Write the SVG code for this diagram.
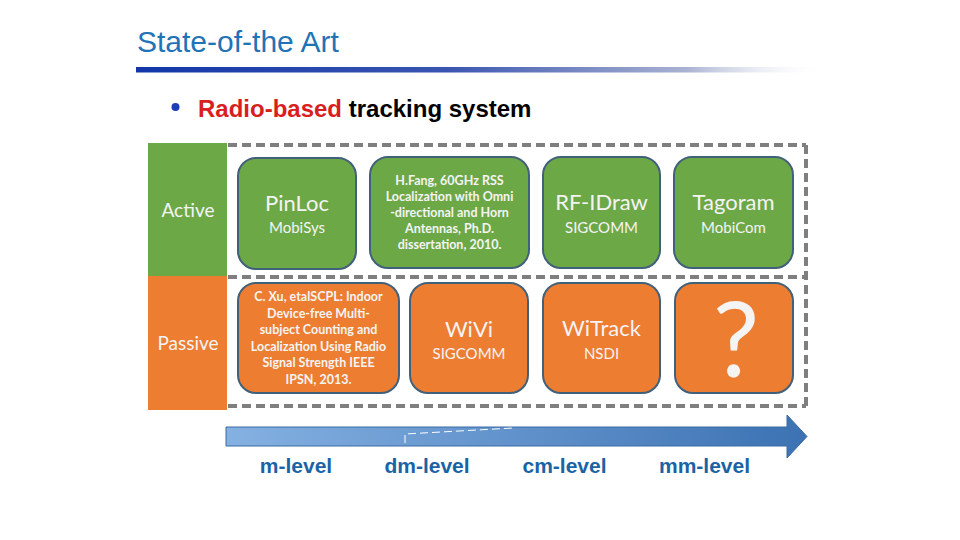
<svg xmlns="http://www.w3.org/2000/svg" width="960" height="540" viewBox="0 0 960 540">
  <defs>
    <linearGradient id="bar" x1="0" y1="0" x2="1" y2="0">
      <stop offset="0" stop-color="#1236A8"/>
      <stop offset="0.45" stop-color="#3a55b0"/>
      <stop offset="0.8" stop-color="#aab3d2"/>
      <stop offset="1" stop-color="#ffffff" stop-opacity="0"/>
    </linearGradient>
    <linearGradient id="arrowH" x1="0" y1="0" x2="1" y2="0">
      <stop offset="0" stop-color="#85B1E2"/>
      <stop offset="1" stop-color="#3C72B3"/>
    </linearGradient>
    <style>
      .title { font-family: "Liberation Sans", Arial, sans-serif; font-size: 30px; fill: #1F73B7; }
      .bullet { font-family: "Liberation Sans", Arial, sans-serif; font-size: 24px; font-weight: bold; }
      .dash { stroke: #7F7F7F; stroke-width: 4; stroke-dasharray: 9 5; fill: none; }
      .g { fill: #6DA847; }
      .o { fill: #ED7D31; }
      .box { stroke: #41607A; stroke-width: 2; }
      .t { font-family: Lato, "Open Sans", "Liberation Sans", sans-serif; fill: #F4F4F4; text-anchor: middle; }
      .big { font-size: 22px; }
      .small { font-size: 15px; }
      .side { font-size: 19px; }
      .para { font-size: 12.5px; font-weight: bold; }
      .lvl { font-family: "Liberation Sans", Arial, sans-serif; font-size: 21px; font-weight: bold; fill: #1B63A5; text-anchor: middle; }
    </style>
  </defs>

  <rect width="960" height="540" fill="#ffffff"/>

  <g id="header">
    <text class="title" x="137" y="52">State-of-the Art</text>
    <rect x="136" y="67" width="690" height="5.5" fill="url(#bar)"/>
    <circle cx="175.5" cy="107" r="4" fill="#1C3FB5"/>
    <text class="bullet" x="198" y="117"><tspan fill="#D81E1E">Radio-based</tspan><tspan fill="#000000"> tracking system</tspan></text>
  </g>

  <g id="grid-lines">
    <line class="dash" x1="228" y1="145" x2="806" y2="145"/>
    <line class="dash" x1="228" y1="277" x2="806" y2="277"/>
    <line class="dash" x1="228" y1="406" x2="806" y2="406"/>
    <line class="dash" x1="806" y1="145" x2="806" y2="406"/>
  </g>

  <g id="active">
    <rect class="g" x="148" y="143" width="79" height="133"/>
    <text class="t side" x="188" y="217">Active</text>
  </g>
  <g id="passive">
    <rect class="o" x="148" y="276" width="79" height="134"/>
    <text class="t side" x="188" y="350">Passive</text>
  </g>

  <g id="pinloc">
    <rect class="g box" x="238" y="158" width="118" height="111" rx="18"/>
    <text class="t big" x="297" y="211">PinLoc</text>
    <text class="t small" x="297" y="233">MobiSys</text>
  </g>
  <g id="hfang">
    <rect class="g box" x="370" y="157" width="159" height="111" rx="18"/>
    <text class="t para" x="449.5" y="185">H.Fang, 60GHz RSS</text>
    <text class="t para" x="449.5" y="201">Localization with Omni</text>
    <text class="t para" x="449.5" y="217">-directional and Horn</text>
    <text class="t para" x="449.5" y="233">Antennas, Ph.D.</text>
    <text class="t para" x="449.5" y="249">dissertation, 2010.</text>
  </g>
  <g id="rfidraw">
    <rect class="g box" x="543" y="157" width="117" height="111" rx="18"/>
    <text class="t big" x="601.5" y="210">RF-IDraw</text>
    <text class="t small" x="601.5" y="233">SIGCOMM</text>
  </g>
  <g id="tagoram">
    <rect class="g box" x="674" y="157" width="119" height="111" rx="18"/>
    <text class="t big" x="733.5" y="210">Tagoram</text>
    <text class="t small" x="733.5" y="233">MobiCom</text>
  </g>

  <g id="cxu">
    <rect class="o box" x="238" y="283" width="161" height="110" rx="18"/>
    <text class="t para" x="318.5" y="301">C. Xu, etalSCPL: Indoor</text>
    <text class="t para" x="318.5" y="317.5">Device-free Multi-</text>
    <text class="t para" x="318.5" y="334">subject Counting and</text>
    <text class="t para" x="318.5" y="350.5">Localization Using Radio</text>
    <text class="t para" x="318.5" y="367">Signal Strength IEEE</text>
    <text class="t para" x="318.5" y="383.5">IPSN, 2013.</text>
  </g>
  <g id="wivi">
    <rect class="o box" x="410" y="283" width="118" height="110" rx="18"/>
    <text class="t big" x="469" y="337">WiVi</text>
    <text class="t small" x="469" y="359">SIGCOMM</text>
  </g>
  <g id="witrack">
    <rect class="o box" x="543" y="283" width="117" height="110" rx="18"/>
    <text class="t big" x="601.5" y="336">WiTrack</text>
    <text class="t small" x="601.5" y="359">NSDI</text>
  </g>
  <g id="unknown">
    <rect class="o box" x="675" y="283" width="118" height="110" rx="18"/>
    <text class="t" x="736" y="377" font-size="104">?</text>
  </g>

  <g id="connectors">
    <path d="M226,427 H787 V415 L807,436.5 L787,458 V446 H226 Z" fill="url(#arrowH)" stroke="#3A6AA2" stroke-width="1"/>
    <path d="M405,443 V434 L513,428" fill="none" stroke="#ffffff" stroke-width="1" stroke-dasharray="8 4"/>
  </g>

  <g id="scale-labels">
    <text class="lvl" x="296" y="473">m-level</text>
    <text class="lvl" x="427" y="473">dm-level</text>
    <text class="lvl" x="564.5" y="473">cm-level</text>
    <text class="lvl" x="704.5" y="473">mm-level</text>
  </g>
</svg>
